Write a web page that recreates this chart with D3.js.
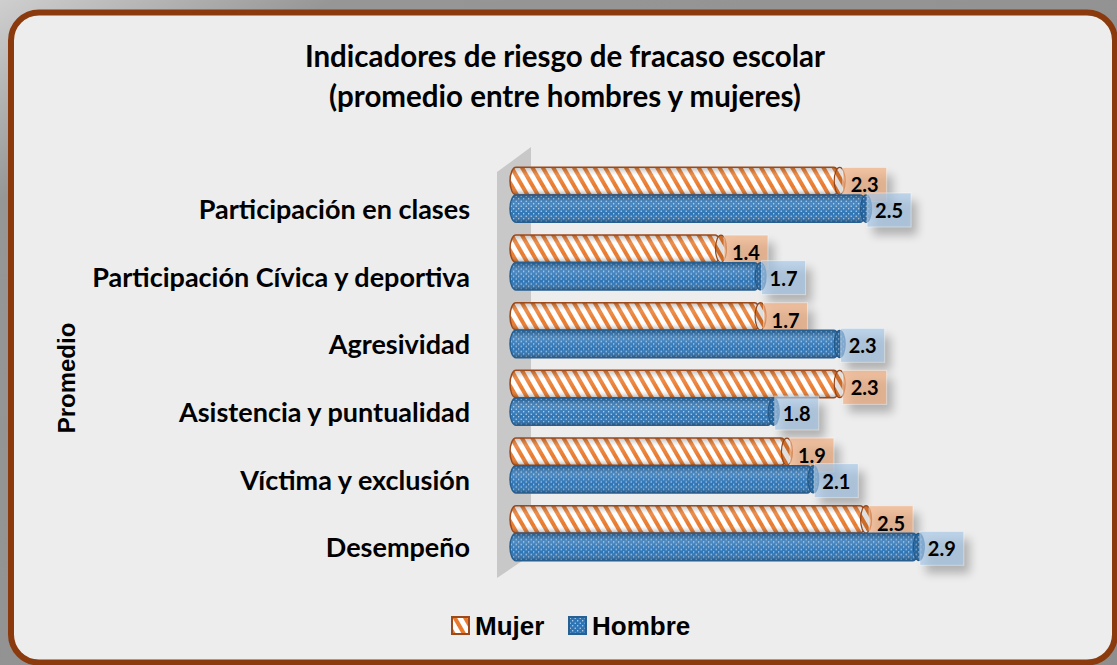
<!DOCTYPE html>
<html>
<head>
    <meta charset="utf-8">
    <script src="https://cdnjs.cloudflare.com/ajax/libs/d3/7.8.5/d3.min.js"></script>
    <style>
        body { margin: 0; background: #999; }
        text { font-family: Lato, "Open Sans", sans-serif; font-weight: bold; fill: #000; }
        .legend text, .axis-title { font-family: "Liberation Sans", Arial, sans-serif; }
    </style>
</head>
<body>
    <div id="chart"></div>
    <script>
        const width = 1117, height = 665;

        const categories = ["Participación en clases", "Participación Cívica y deportiva", "Agresividad",
            "Asistencia y puntualidad", "Víctima y exclusión", "Desempeño"];
        const seriesNames = ["Mujer", "Hombre"];
        const mujer = [2.3, 1.4, 1.7, 2.3, 1.9, 2.5];
        const hombre = [2.5, 1.7, 2.3, 1.8, 2.1, 2.9];
        const titleLines = ["Indicadores de riesgo de fracaso escolar", "(promedio entre hombres y mujeres)"];
        const axisTitle = "Promedio";

        const values = { Mujer: mujer, Hombre: hombre };
        const rows = categories.map((c, i) => ({ cat: c, items: seriesNames.map(s => ({ s, v: values[s][i] })) }));

        const svg = d3.select("#chart").append("svg").attr("width", width).attr("height", height);
        const defs = svg.append("defs");

        // outer background
        const bg = defs.append("linearGradient").attr("id", "bg").attr("x1", 0).attr("y1", 0).attr("x2", 1).attr("y2", 1);
        bg.append("stop").attr("offset", 0).attr("stop-color", "#cfcfcf");
        bg.append("stop").attr("offset", 0.15).attr("stop-color", "#969696");
        bg.append("stop").attr("offset", 1).attr("stop-color", "#8e8e8e");
        svg.append("rect").attr("width", width).attr("height", height).attr("fill", "url(#bg)");

        // card
        svg.append("rect").attr("x", 11).attr("y", 12.5).attr("width", 1104).attr("height", 650)
            .attr("rx", 28).attr("fill", "#ededed").attr("stroke", "#8b3a0e").attr("stroke-width", 6);

        // patterns
        const pm = defs.append("pattern").attr("id", "pMujer").attr("patternUnits", "userSpaceOnUse")
            .attr("width", 9).attr("height", 9).attr("patternTransform", "rotate(-30)");
        pm.append("rect").attr("width", 9).attr("height", 9).attr("fill", "#fff");
        pm.append("rect").attr("width", 4).attr("height", 9).attr("fill", "#e97b2e");

        const ph = defs.append("pattern").attr("id", "pHombre").attr("patternUnits", "userSpaceOnUse")
            .attr("width", 5).attr("height", 5);
        ph.append("rect").attr("width", 5).attr("height", 5).attr("fill", "#2e75b6");
        ph.append("circle").attr("cx", 1.2).attr("cy", 1.2).attr("r", 0.7).attr("fill", "#fff").attr("opacity", 0.75);
        ph.append("circle").attr("cx", 3.7).attr("cy", 3.7).attr("r", 0.7).attr("fill", "#fff").attr("opacity", 0.75);

        const shade = defs.append("linearGradient").attr("id", "shade").attr("x1", 0).attr("y1", 0).attr("x2", 0).attr("y2", 1);
        shade.append("stop").attr("offset", 0).attr("stop-color", "#000").attr("stop-opacity", 0.25);
        shade.append("stop").attr("offset", 0.3).attr("stop-color", "#fff").attr("stop-opacity", 0.15);
        shade.append("stop").attr("offset", 0.7).attr("stop-color", "#fff").attr("stop-opacity", 0);
        shade.append("stop").attr("offset", 1).attr("stop-color", "#000").attr("stop-opacity", 0.3);

        const blur = defs.append("filter").attr("id", "shadow").attr("x", "-50%").attr("y", "-50%")
            .attr("width", "200%").attr("height", "200%");
        blur.append("feGaussianBlur").attr("stdDeviation", 5);

        const fills = { Mujer: "url(#pMujer)", Hombre: "url(#pHombre)" };
        const edge = { Mujer: "#9c4a1c", Hombre: "#285f91" };
        const boxFill = { Mujer: "#f4b183", Hombre: "#a9c9e8" };

        // scales
        const x = d3.scaleLinear().domain([-0.2, 3]).range([510, 932]);
        const y = d3.scaleBand().domain(categories).range([161, 567]).paddingInner(0.18).paddingOuter(0.09);
        const ySub = d3.scaleBand().domain(seriesNames).range([0, y.bandwidth()]).padding(0.01);
        const bh = ySub.bandwidth();

        // back wall
        svg.append("path")
            .attr("d", `M497,${y.range()[0] + 11}L531,${y.range()[0] - 14}L531,${y.range()[1] - 12}L497,${y.range()[1] + 11}Z`)
            .attr("fill", "#c8c8c8");

        // title
        svg.append("g").selectAll("text").data(titleLines).join("text")
            .attr("x", 565).attr("y", (d, i) => 55 + i * 40)
            .attr("text-anchor", "middle").attr("dominant-baseline", "central")
            .style("font-size", "29.5px").text(d => d);

        // axis title
        svg.append("text").attr("class", "axis-title").attr("transform", "translate(66,378) rotate(-90)")
            .attr("text-anchor", "middle").attr("dominant-baseline", "central")
            .style("font-size", "24px").text(axisTitle);

        // category labels
        svg.append("g").selectAll("text").data(categories).join("text")
            .attr("x", 470).attr("y", d => y(d) + ySub("Hombre") + bh / 2)
            .attr("text-anchor", "end").attr("dominant-baseline", "central")
            .style("font-size", "27px").text(d => d);

        // bars
        const groups = svg.append("g").selectAll("g").data(rows).join("g")
            .attr("transform", d => `translate(0,${y(d.cat)})`);

        const bar = groups.selectAll("g.bar").data(d => d.items).join("g").attr("class", "bar")
            .attr("transform", d => `translate(0,${ySub(d.s)})`);

        bar.append("rect").attr("x", x(-0.2)).attr("width", d => x(d.v) - x(-0.2)).attr("height", bh)
            .attr("rx", 6).attr("ry", bh / 2).attr("fill", d => fills[d.s]);
        bar.append("rect").attr("x", x(-0.2)).attr("width", d => x(d.v) - x(-0.2)).attr("height", bh)
            .attr("rx", 6).attr("ry", bh / 2).attr("fill", "url(#shade)")
            .attr("stroke", d => edge[d.s]).attr("stroke-width", 1.5);
        bar.append("ellipse").attr("cx", d => x(d.v)).attr("cy", bh / 2).attr("rx", 5.5).attr("ry", bh / 2)
            .attr("fill", d => fills[d.s]).attr("stroke", d => edge[d.s]).attr("stroke-width", 1.2);
        bar.append("ellipse").attr("cx", d => x(d.v)).attr("cy", bh / 2).attr("rx", 5.5).attr("ry", bh / 2)
            .attr("fill", "#000").attr("opacity", 0.12);

        // data labels
        const lab = bar.append("g")
            .attr("transform", d => `translate(${x(d.v) + (d.s === "Mujer" ? 3 : 1)},${d.s === "Mujer" ? 0 : -2})`);
        lab.append("rect").attr("x", 6).attr("y", 8).attr("width", 44).attr("height", 34)
            .attr("fill", "#000").attr("opacity", 0.25).attr("filter", "url(#shadow)");
        lab.append("rect").attr("width", 44).attr("height", 34)
            .attr("fill", d => boxFill[d.s]).attr("opacity", 0.7)
            .attr("stroke", "#fff").attr("stroke-opacity", 0.6);
        lab.append("text").attr("x", 22).attr("y", 17)
            .attr("text-anchor", "middle").attr("dominant-baseline", "central")
            .style("font-size", "20px").text(d => d.v.toFixed(1));

        // legend
        const legendX = { Mujer: 452, Hombre: 569 };
        const leg = svg.append("g").attr("class", "legend").selectAll("g").data(seriesNames).join("g")
            .attr("transform", d => `translate(${legendX[d]},617)`);
        leg.append("rect").attr("width", 17).attr("height", 17).attr("fill", d => fills[d])
            .attr("stroke", d => edge[d]).attr("stroke-width", 2);
        leg.append("text").attr("x", 23).attr("y", 9).attr("dominant-baseline", "central")
            .style("font-size", "26px").text(d => d);
    </script>
</body>
</html>
